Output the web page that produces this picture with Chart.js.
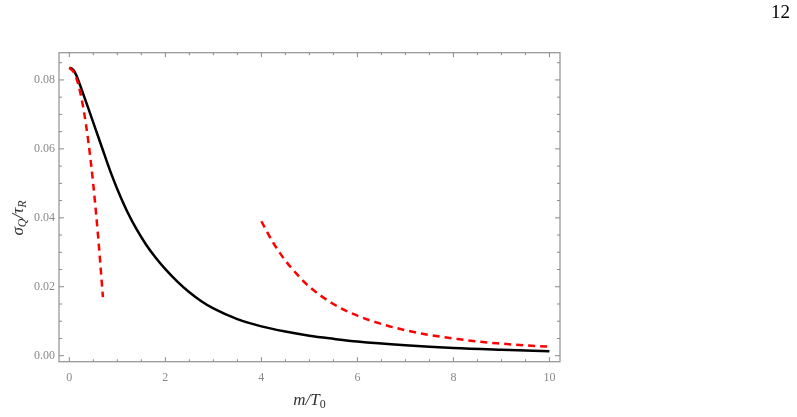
<!DOCTYPE html>
<html>
<head>
<meta charset="utf-8">
<script src="https://cdn.jsdelivr.net/npm/chart.js@4"></script>
<style>
  body { margin: 0; background: #fff; }
  #wrap { position: relative; width: 797px; height: 417px; }
  #page { position: absolute; right: 7px; top: 1px; font: 19px "Liberation Serif", serif; color: #000; }
</style>
</head>
<body>
<div id="wrap">
  <canvas id="chart"></canvas>
  <div id="page">12</div>
</div>
<script>
// full curve
const blackX = [0, 0.05, 0.1, 0.15, 0.2, 0.3, 0.4, 0.5, 0.6, 0.7, 0.8, 0.9, 1.0, 1.2, 1.4, 1.6, 1.8, 2.0, 2.25, 2.5, 2.75, 3.0, 3.5, 4.0, 4.5, 5.0, 5.5, 6.0, 7.0, 8.0, 9.0, 10];
const blackY = [0.0835, 0.0833, 0.0826, 0.0812, 0.0794, 0.0755, 0.0716, 0.0676, 0.0636, 0.0596, 0.0556, 0.0518, 0.0483, 0.0420, 0.0367, 0.0322, 0.0284, 0.0251, 0.0215, 0.0184, 0.0158, 0.0137, 0.0106, 0.0085, 0.0070, 0.0058, 0.0049, 0.0041, 0.0030, 0.0022, 0.0017, 0.0013];
// small m approximation
const lowX = [0, 0.1, 0.2, 0.3, 0.4, 0.5, 0.6, 0.7];
const lowY = [0.0835, 0.0821, 0.0780, 0.0712, 0.0617, 0.0495, 0.0345, 0.0170];
// large m approximation
const highX = [4, 4.25, 4.5, 4.75, 5, 5.5, 6, 6.5, 7, 7.5, 8, 8.5, 9, 9.5, 10];
const highY = [0.0390, 0.0327, 0.0276, 0.0235, 0.0200, 0.0150, 0.0116, 0.0092, 0.0074, 0.0060, 0.0050, 0.0041, 0.0035, 0.0030, 0.0026];

const xTicks = [0, 2, 4, 6, 8, 10];
const yTicks = [0, 0.02, 0.04, 0.06, 0.08];
const xMinor = [0.5, 1, 1.5, 2.5, 3, 3.5, 4.5, 5, 5.5, 6.5, 7, 7.5, 8.5, 9, 9.5];
const yMinor = [0.005, 0.01, 0.015, 0.025, 0.03, 0.035, 0.045, 0.05, 0.055, 0.065, 0.07, 0.075, 0.085];

const pts = (xs, ys) => xs.map((x, i) => ({ x, y: ys[i] }));
const serif = '"Liberation Serif", "Times New Roman", serif';

const frame = {
  id: 'frame',
  afterDraw(chart) {
    const { ctx, chartArea: a, scales: { x, y } } = chart;
    ctx.save();
    ctx.strokeStyle = '#9a9a9a';
    ctx.lineWidth = 1.3;
    ctx.strokeRect(a.left, a.top, a.right - a.left, a.bottom - a.top);
    ctx.strokeStyle = '#8a8a8a';
    ctx.lineWidth = 1;
    const seg = (x1, y1, x2, y2) => { ctx.beginPath(); ctx.moveTo(x1, y1); ctx.lineTo(x2, y2); ctx.stroke(); };
    const xt = (v, len) => { const p = x.getPixelForValue(v); seg(p, a.bottom, p, a.bottom - len); seg(p, a.top, p, a.top + len); };
    const yt = (v, len) => { const p = y.getPixelForValue(v); seg(a.left, p, a.left + len, p); seg(a.right, p, a.right - len, p); };
    xTicks.forEach(v => xt(v, 4.5));
    xMinor.forEach(v => xt(v, 2.5));
    yTicks.forEach(v => yt(v, 5));
    yMinor.forEach(v => yt(v, 3));

    // axis titles with subscripts
    ctx.fillStyle = '#333';
    ctx.textBaseline = 'alphabetic';
    const drawSub = (parts, cx, cy) => {
      let w = 0;
      parts.forEach(p => { ctx.font = p.f; w += ctx.measureText(p.t).width; });
      let px = cx - w / 2;
      parts.forEach(p => { ctx.font = p.f; ctx.fillText(p.t, px, cy + (p.dy || 0)); px += ctx.measureText(p.t).width; });
    };
    const big = 'italic 17px ' + serif, sub = 'italic 12px ' + serif, subR = '12px ' + serif;
    drawSub([{ t: 'm/T', f: big }, { t: '0', f: subR, dy: 3 }], (a.left + a.right) / 2, 405);
    ctx.translate(23, 218);
    ctx.rotate(-Math.PI / 2);
    drawSub([{ t: 'σ', f: big }, { t: 'Q', f: sub, dy: 3 }, { t: '/τ', f: big }, { t: 'R', f: sub, dy: 3 }], 0, 0);
    ctx.restore();
  }
};

new Chart(document.getElementById('chart'), {
  type: 'line',
  data: {
    datasets: [
      { data: pts(blackX, blackY), borderColor: '#000', borderWidth: 2.5, order: 2 },
      { data: pts(lowX, lowY), borderColor: '#ff0000', borderWidth: 2.5, borderDash: [7, 5], order: 1 },
      { data: pts(highX, highY), borderColor: '#ff0000', borderWidth: 2.5, borderDash: [7, 5], order: 1 },
    ],
  },
  options: {
    responsive: true,
    maintainAspectRatio: false,
    animation: false,
    layout: { padding: { left: 0, top: 52.7, right: 237, bottom: 0 } },
    elements: { point: { radius: 0 }, line: { cubicInterpolationMode: 'monotone' } },
    plugins: { legend: { display: false }, tooltip: { enabled: false } },
    scales: {
      x: {
        type: 'linear', min: -0.215, max: 10.22,
        afterBuildTicks: s => { s.ticks = xTicks.map(v => ({ value: v })); },
        afterFit: s => { s.height = 55.3; },
        grid: { display: false, drawTicks: false },
        border: { display: false },
        ticks: { padding: 9, color: '#8a8a8a', font: { family: serif, size: 12 }, maxRotation: 0 },
      },
      y: {
        type: 'linear', min: -0.00174, max: 0.0879,
        afterBuildTicks: s => { s.ticks = yTicks.map(v => ({ value: v })); },
        afterFit: s => { s.width = 59; },
        grid: { display: false, drawTicks: false },
        border: { display: false },
        ticks: { padding: 4, color: '#8a8a8a', font: { family: serif, size: 12 }, callback: v => v.toFixed(2) },
      },
    },
  },
  plugins: [frame],
});
</script>
</body>
</html>
